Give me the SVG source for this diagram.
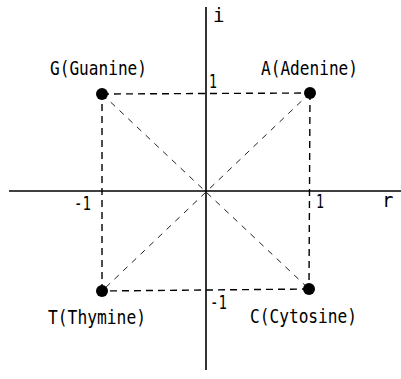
<svg xmlns="http://www.w3.org/2000/svg" width="401" height="379" viewBox="0 0 401 379">
<style>
.lbl{font-family:"DejaVu Sans Mono","Liberation Mono",monospace;font-size:19px;fill:#000}
.ax{stroke:#000;stroke-width:1.6;fill:none}
.sq{stroke:#000;stroke-width:1.4;stroke-dasharray:7 5;fill:none}
.dg{stroke:#222;stroke-width:1;stroke-dasharray:6 6;fill:none}
.dot{fill:#000}
</style>
<rect width="401" height="379" fill="#fff"/>
<g id="axes">
<line class="ax" x1="9" y1="191" x2="401" y2="191"/>
<line class="ax" x1="206" y1="7" x2="206" y2="370"/>
<text class="lbl" x="213" y="22">i</text>
<text class="lbl" x="382" y="207">r</text>
<text class="lbl" x="209" y="88" textLength="8" lengthAdjust="spacingAndGlyphs">1</text>
<text class="lbl" x="316" y="208" textLength="8" lengthAdjust="spacingAndGlyphs">1</text>
<text class="lbl" x="74" y="210" textLength="17" lengthAdjust="spacingAndGlyphs">-1</text>
<text class="lbl" x="210" y="309" textLength="17" lengthAdjust="spacingAndGlyphs">-1</text>
</g>
<g id="connectors">
<line class="sq" x1="102" y1="94" x2="310" y2="93"/>
<line class="sq" x1="310" y1="93" x2="309" y2="289"/>
<line class="sq" x1="309" y1="289" x2="102" y2="291"/>
<line class="sq" x1="102" y1="291" x2="102" y2="94"/>
<line class="dg" x1="102" y1="94" x2="309" y2="289"/>
<line class="dg" x1="310" y1="93" x2="102" y2="291"/>
</g>
<g id="node-G">
<circle class="dot" cx="102" cy="94" r="6"/>
<text class="lbl" x="50" y="75" textLength="97" lengthAdjust="spacingAndGlyphs">G(Guanine)</text>
</g>
<g id="node-A">
<circle class="dot" cx="310" cy="93" r="6"/>
<text class="lbl" x="261" y="75" textLength="97" lengthAdjust="spacingAndGlyphs">A(Adenine)</text>
</g>
<g id="node-T">
<circle class="dot" cx="102" cy="291" r="6"/>
<text class="lbl" x="48" y="324" textLength="98" lengthAdjust="spacingAndGlyphs">T(Thymine)</text>
</g>
<g id="node-C">
<circle class="dot" cx="309" cy="289" r="6"/>
<text class="lbl" x="250" y="323" textLength="107" lengthAdjust="spacingAndGlyphs">C(Cytosine)</text>
</g>
</svg>
